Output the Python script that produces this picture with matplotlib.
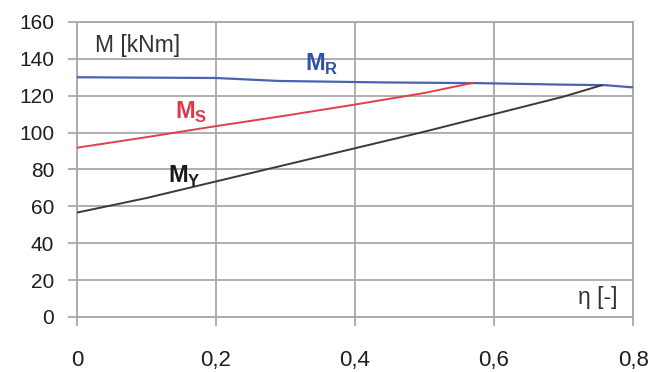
import matplotlib.pyplot as plt

plt.rcParams['font.family'] = ['Liberation Sans', 'DejaVu Sans']
plt.rcParams['mathtext.fontset'] = 'custom'
plt.rcParams['mathtext.rm'] = 'Liberation Sans'
plt.rcParams['mathtext.bf'] = 'Liberation Sans:bold'

# data
eta_r = [0, 0.2, 0.29, 0.44, 0.58, 0.7, 0.76, 0.8]
m_r = [130, 129.6, 128, 127.2, 126.8, 126, 125.7, 124.5]

eta_s = [0, 0.1, 0.2, 0.3, 0.4, 0.5, 0.57]
m_s = [91.8, 97.5, 103.5, 109.2, 115.2, 121.5, 127]

eta_y = [0, 0.1, 0.2, 0.3, 0.4, 0.5, 0.6, 0.7, 0.755]
m_y = [56.6, 64.5, 73.5, 82.5, 91.5, 100.5, 110, 119.5, 125.7]

xticks = [0, 0.2, 0.4, 0.6, 0.8]
xlabels = ['0', '0,2', '0,4', '0,6', '0,8']
yticks = list(range(0, 161, 20))

grid_col = '#a8a8a8'

fig = plt.figure(figsize=(6.54, 3.72), dpi=100)
ax = fig.add_axes([0.1177, 0.148, 0.8503, 0.793])

ax.plot(eta_r, m_r, color='#4a62b0', lw=1.6, zorder=3)
ax.plot(eta_s, m_s, color='#e0404e', lw=1.4, zorder=3)
ax.plot(eta_y, m_y, color='#3a3a3a', lw=1.4, zorder=3)

ax.set_xlim(0, 0.8)
ax.set_ylim(0, 160)
ax.set_xticks(xticks)
ax.set_xticklabels(xlabels)
ax.set_yticks(yticks)
ax.grid(True, color=grid_col, lw=1.3)
ax.set_axisbelow(True)
for s in ax.spines.values():
    s.set_color(grid_col)
    s.set_linewidth(1.3)
ax.tick_params(axis='both', direction='out', length=6.5, width=1.3,
               color=grid_col, labelcolor='#1e1e1e')
ax.tick_params(axis='y', pad=10, labelsize=15)
ax.tick_params(axis='x', pad=17, labelsize=16)

ax.text(0.026, 147, 'M [kNm]', fontsize=16.5, color='#333333', va='center')
ax.text(0.328, 137, r'$\mathbf{M}_\mathbf{R}$', fontsize=17, color='#2c52a8', va='center')
ax.text(0.141, 111, r'$\mathbf{M}_\mathbf{S}$', fontsize=17, color='#e03848', va='center')
ax.text(0.131, 76, r'$\mathbf{M}_\mathbf{Y}$', fontsize=17, color='#1a1a1a', va='center')
ax.text(0.777, 10.5, 'η [-]', fontsize=16.5, color='#333333', va='center', ha='right')

fig.savefig('out.png', dpi=100)
